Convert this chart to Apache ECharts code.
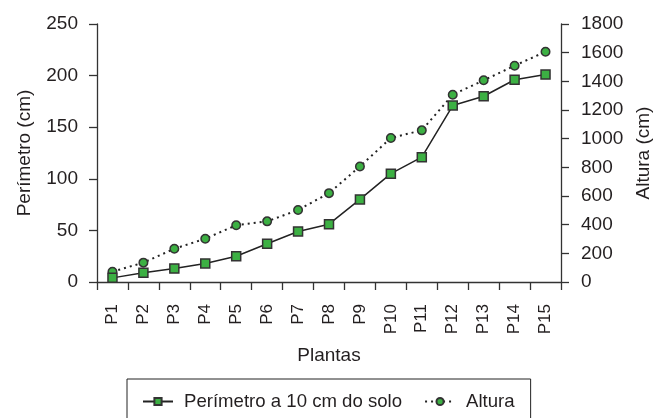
<!DOCTYPE html>
<html>
<head>
<meta charset="utf-8">
<script src="https://cdn.jsdelivr.net/npm/echarts@6/dist/echarts.min.js"></script>
<style>html,body{margin:0;padding:0;background:#fff}#c{width:664px;height:418px}</style>
</head>
<body>
<div id="c"></div>
<script>
const categories = ['P1','P2','P3','P4','P5','P6','P7','P8','P9','P10','P11','P12','P13','P14','P15'];
const perimetro = [4, 9, 13, 18, 25, 37, 49, 56, 80, 105, 121, 171, 180, 196, 201];
const altura = [72, 135, 232, 302, 396, 423, 502, 620, 806, 1005, 1058, 1307, 1407, 1509, 1607];
const leftTicks = {min: 0, max: 250, interval: 50};
const rightTicks = {min: 0, max: 1800, interval: 200};

const font = 'Liberation Sans, Arial, sans-serif';
const txt = '#231f20';
const axisCol = '#333';
const green = '#3cb043';

const chart = echarts.init(document.getElementById('c'), null, {renderer: 'canvas'});
chart.setOption({
  animation: false,
  textStyle: {fontFamily: font, color: txt},
  grid: {left: 97, right: 103, top: 24, bottom: 136, containLabel: false},
  legend: {
    left: 127, top: 379,
    padding: [13, 16, 24, 15],
    borderColor: '#222', borderWidth: 1,
    itemWidth: 30, itemHeight: 9, itemGap: 22,
    textStyle: {fontFamily: font, fontSize: 18.6, color: txt, padding: [0, 0, 0, 6]},
    data: ['Perímetro a 10 cm do solo', 'Altura']
  },
  xAxis: {
    type: 'category', data: categories, boundaryGap: true,
    name: 'Plantas', nameLocation: 'middle', nameGap: 64,
    nameTextStyle: {fontFamily: font, fontSize: 19, color: txt},
    axisLine: {lineStyle: {color: axisCol, width: 1.3}},
    axisTick: {show: true, length: 8, inside: false, alignWithLabel: false, lineStyle: {color: axisCol, width: 1.3}},
    axisLabel: {rotate: 90, margin: 22, fontFamily: font, fontSize: 17, color: txt, interval: 0}
  },
  yAxis: [{
    type: 'value', position: 'left', min: leftTicks.min, max: leftTicks.max, interval: leftTicks.interval,
    name: 'Perímetro (cm)', nameLocation: 'middle', nameGap: 63, nameRotate: 90,
    nameTextStyle: {fontFamily: font, fontSize: 19, color: txt},
    splitLine: {show: false},
    axisLine: {show: true, lineStyle: {color: axisCol, width: 1.3}},
    axisTick: {show: true, length: 8, lineStyle: {color: axisCol, width: 1.3}},
    axisLabel: {margin: 19, fontFamily: font, fontSize: 19, color: txt, formatter: v => String(v)}
  }, {
    type: 'value', position: 'right', min: rightTicks.min, max: rightTicks.max, interval: rightTicks.interval,
    name: 'Altura (cm)', nameLocation: 'middle', nameGap: 72, nameRotate: 90,
    nameTextStyle: {fontFamily: font, fontSize: 19, color: txt},
    splitLine: {show: false},
    axisLine: {show: true, lineStyle: {color: axisCol, width: 1.3}},
    axisTick: {show: true, length: 8, lineStyle: {color: axisCol, width: 1.3}},
    axisLabel: {margin: 20, fontFamily: font, fontSize: 19, color: txt, formatter: v => String(v)}
  }],
  series: [{
    name: 'Perímetro a 10 cm do solo', type: 'line', yAxisIndex: 0, data: perimetro,
    symbol: 'rect', symbolSize: 9, showAllSymbol: true,
    lineStyle: {color: '#222', width: 1.5},
    itemStyle: {color: green, borderColor: '#333', borderWidth: 1.5},
    z: 3
  }, {
    name: 'Altura', type: 'line', yAxisIndex: 1, data: altura,
    symbol: 'circle', symbolSize: 8.5, showAllSymbol: true,
    lineStyle: {color: '#222', width: 2, type: [2, 4]},
    itemStyle: {color: green, borderColor: '#333', borderWidth: 1.5},
    z: 2
  }]
});
</script>
</body>
</html>
